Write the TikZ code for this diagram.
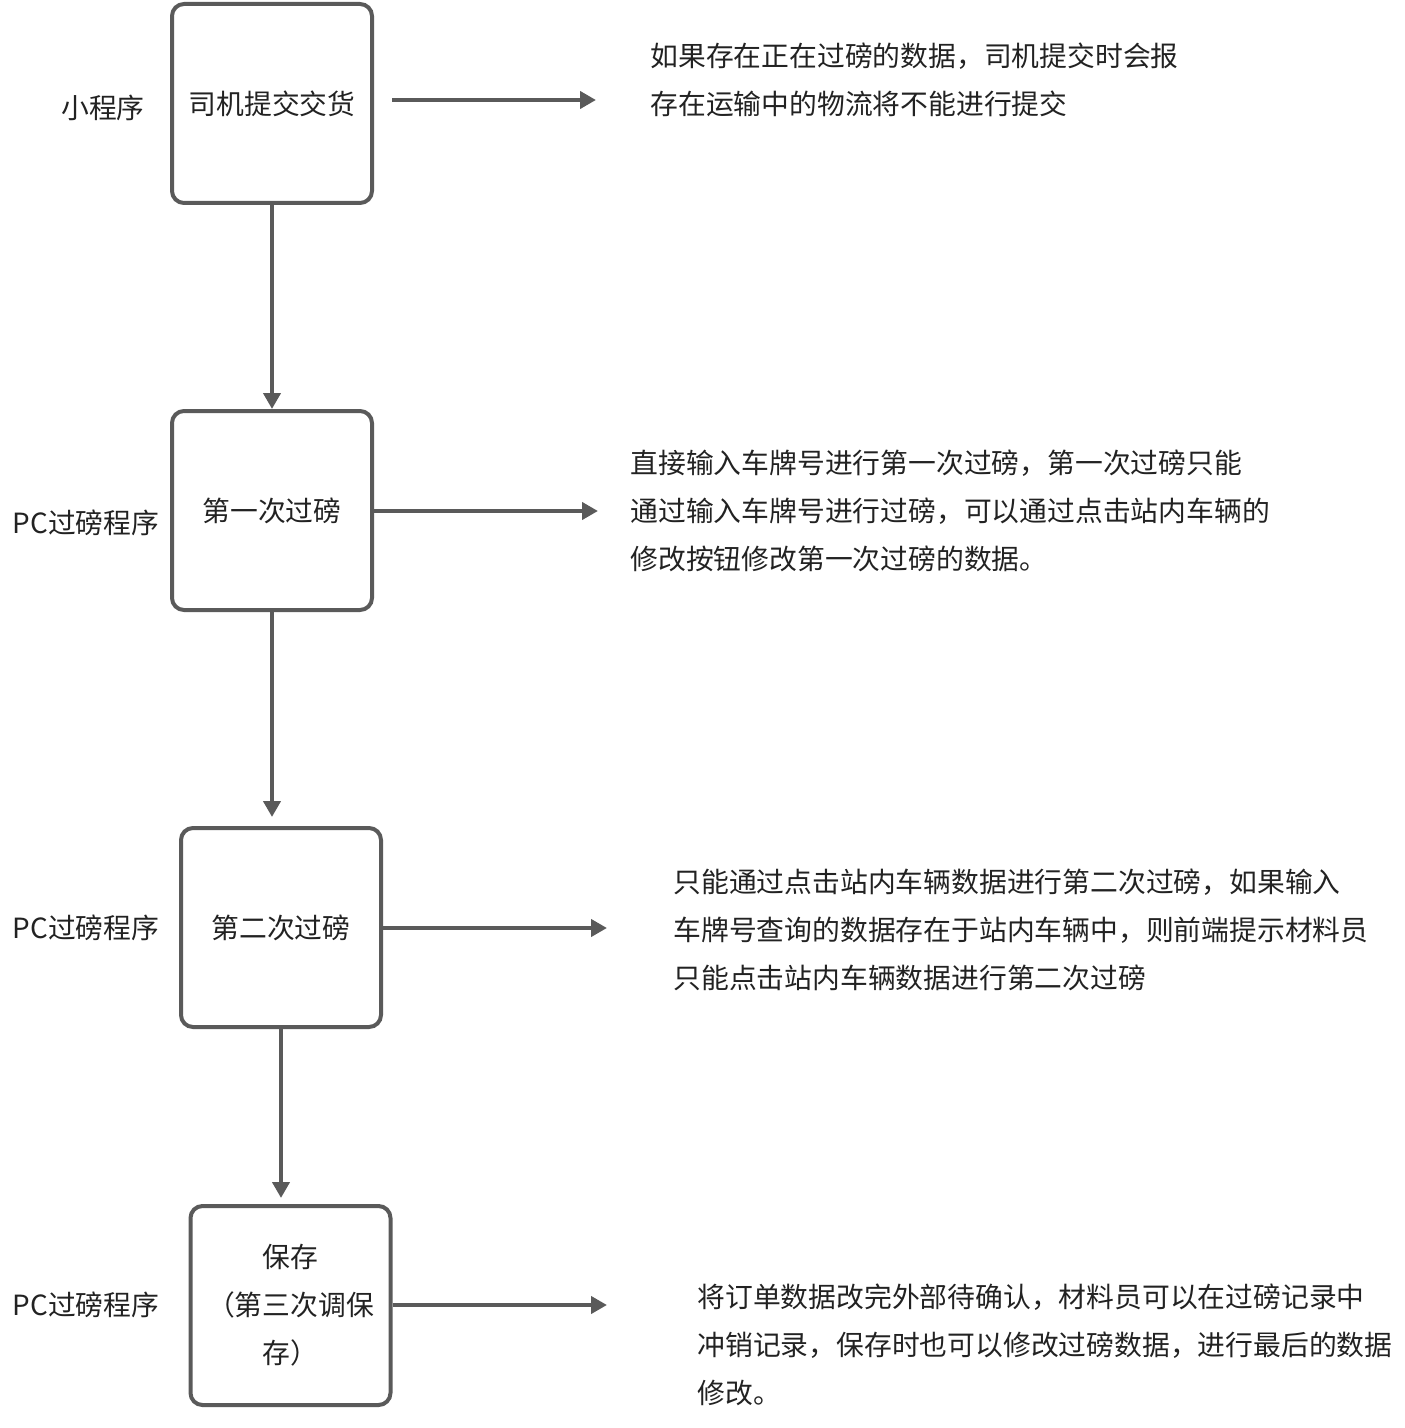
\documentclass[tikz,border=0pt]{standalone}
\usepackage{fontspec}
\setmainfont{Noto Sans CJK SC}
\usetikzlibrary{arrows.meta}
\definecolor{linegray}{HTML}{5A5A5A}
\definecolor{txt}{HTML}{222222}
\begin{document}
\begin{tikzpicture}[x=0.5pt,y=-0.5pt,
  box/.style={draw=linegray,line width=2pt,rounded corners=6pt,minimum width=100pt,minimum height=99.5pt,inner sep=0pt,align=center,text=txt,font=\fontsize{13.9}{24}\selectfont},
  lbl/.style={text=txt,inner sep=0pt,font=\fontsize{13.9}{24}\selectfont},
  note/.style={text=txt,inner sep=0pt,anchor=west,align=left,font=\fontsize{13.9}{24}\selectfont},
  arr/.style={draw=linegray,line width=2pt,-{Triangle[length=8pt,width=8.5pt]}}]
\useasboundingbox (0,0) rectangle (1404,1428);
\node[box] (b1) at (272,103.5) {司机提交交货};
\node[box] (b2) at (272,510.5) {第一次过磅};
\node[box] (b3) at (281,927.5) {第二次过磅};
\node[box] (b4) at (290.5,1305.5) {保存\\（第三次调保\\存）};
\node[lbl] (l1) at (103,108) {小程序};
\node[lbl] (l2) at (86,523) {PC过磅程序};
\node[lbl] (l3) at (86,928) {PC过磅程序};
\node[lbl] (l4) at (86,1305) {PC过磅程序};
\node[note] (n1) at (650,80) {如果存在正在过磅的数据，司机提交时会报\\存在运输中的物流将不能进行提交};
\node[note] (n2) at (630,511) {直接输入车牌号进行第一次过磅，第一次过磅只能\\通过输入车牌号进行过磅，可以通过点击站内车辆的\\修改按钮修改第一次过磅的数据。};
\node[note] (n3) at (673,930) {只能通过点击站内车辆数据进行第二次过磅，如果输入\\车牌号查询的数据存在于站内车辆中，则前端提示材料员\\只能点击站内车辆数据进行第二次过磅};
\node[note] (n4) at (697,1344.5) {将订单数据改完外部待确认，材料员可以在过磅记录中\\冲销记录，保存时也可以修改过磅数据，进行最后的数据\\修改。};
\coordinate (s1) at (392,100);
\coordinate (e1) at (596,100);
\coordinate (e2) at (598,511);
\coordinate (e3) at (607,928);
\coordinate (e4) at (607,1305);
\draw[arr] (s1) -- (e1);
\draw[arr] (b2.east |- e2) -- (e2);
\draw[arr] (b3.east |- e3) -- (e3);
\draw[arr] (b4.east |- e4) -- (e4);
\draw[arr] (b1.south) -- (b1.south |- b2.north);
\draw[arr,shorten >=4.5pt] (b2.south) -- (b2.south |- b3.north);
\draw[arr,shorten >=3pt] (b3.south) -- (b3.south |- b4.north);
\end{tikzpicture}
\end{document}
